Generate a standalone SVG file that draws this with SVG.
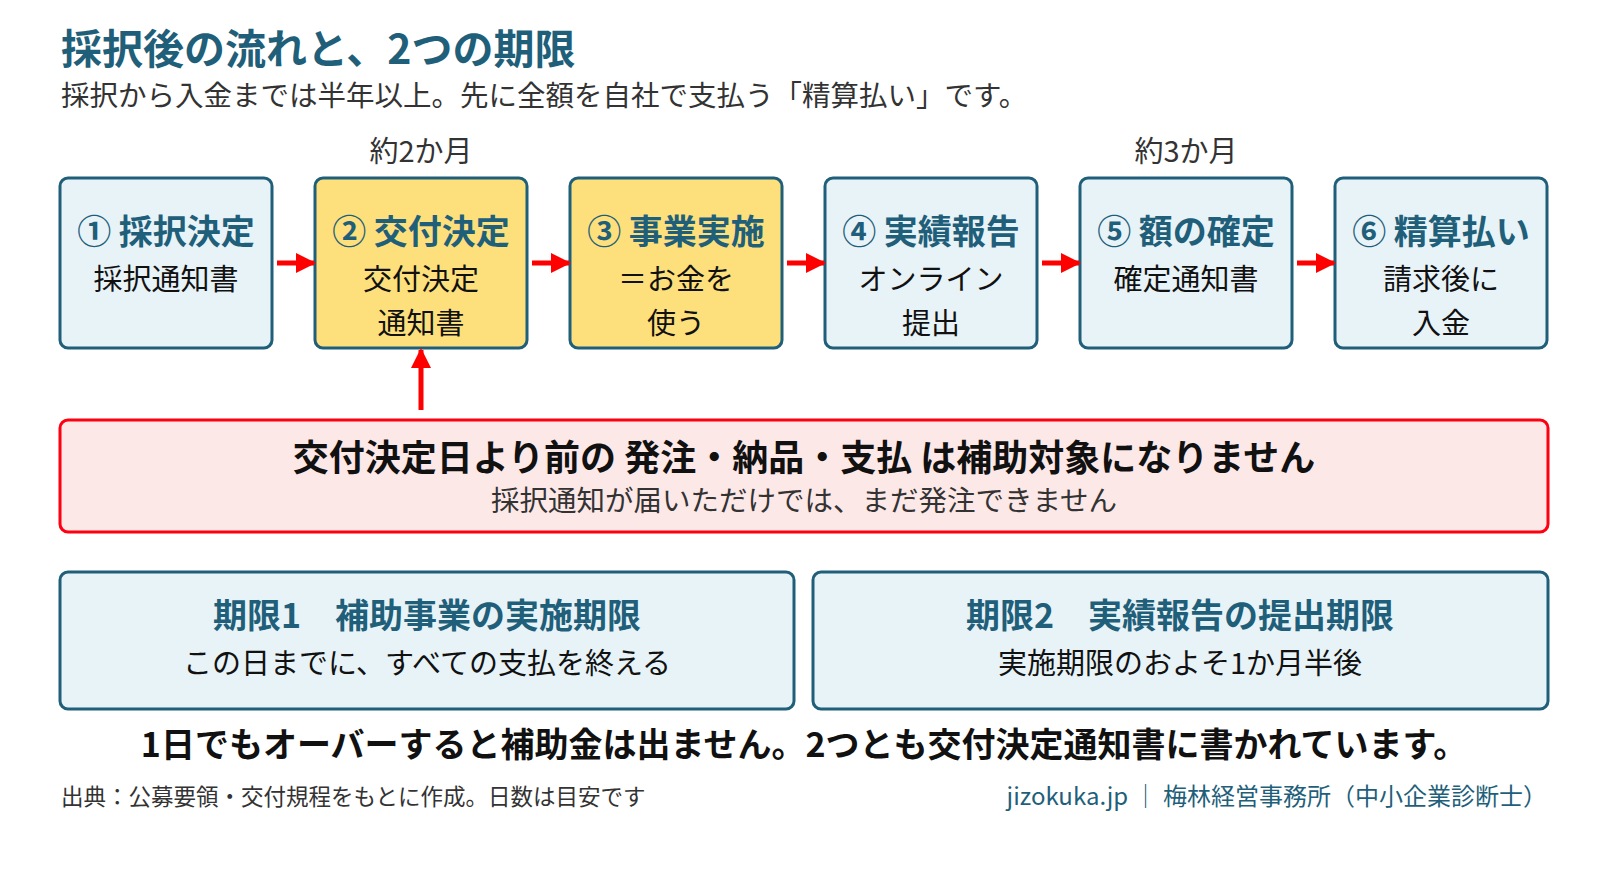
<svg xmlns="http://www.w3.org/2000/svg" width="1600" height="880" viewBox="0 0 1600 880">
<style>
text{font-family:"Noto Sans CJK JP","Noto Sans",sans-serif}
.box{fill:#e8f3f8;stroke:#1f5f7a;stroke-width:3}
.yel{fill:#fde07c;stroke:#1f5f7a;stroke-width:3}
.bt{font-size:34px;font-weight:700;fill:#1f5f7a;text-anchor:middle}
.bs{font-size:29px;fill:#111;text-anchor:middle}
.ar{stroke:#f00;stroke-width:5;fill:none;marker-end:url(#ah)}
</style>
<defs><marker id="ah" viewBox="0 0 10 10" refX="9" refY="5" markerWidth="4" markerHeight="4.4" orient="auto" markerUnits="strokeWidth"><path d="M0,0L10,5L0,10Z" fill="#f00"/></marker></defs>
<rect width="1600" height="880" fill="#fff"/>
<text x="61" y="64" font-size="41" font-weight="700" fill="#1f5f7a">採択後の流れと、2つの期限</text>
<text x="61" y="106" font-size="28.5" fill="#333">採択から入金までは半年以上。先に全額を自社で支払う「精算払い」です。</text>
<text x="421" y="162" font-size="29" fill="#333" text-anchor="middle">約2か月</text>
<text x="1186" y="162" font-size="29" fill="#333" text-anchor="middle">約3か月</text>
<g id="n1"><rect class="box" x="60" y="178" width="212" height="170" rx="8"/><text class="bt" x="166" y="244">① 採択決定</text><text class="bs" x="166" y="290">採択通知書</text></g>
<g id="n2"><rect class="yel" x="315" y="178" width="212" height="170" rx="8"/><text class="bt" x="421" y="244">② 交付決定</text><text class="bs" x="421" y="290">交付決定</text><text class="bs" x="421" y="334">通知書</text></g>
<g id="n3"><rect class="yel" x="570" y="178" width="212" height="170" rx="8"/><text class="bt" x="676" y="244">③ 事業実施</text><text class="bs" x="676" y="290">＝お金を</text><text class="bs" x="676" y="334">使う</text></g>
<g id="n4"><rect class="box" x="825" y="178" width="212" height="170" rx="8"/><text class="bt" x="931" y="244">④ 実績報告</text><text class="bs" x="931" y="290">オンライン</text><text class="bs" x="931" y="334">提出</text></g>
<g id="n5"><rect class="box" x="1080" y="178" width="212" height="170" rx="8"/><text class="bt" x="1186" y="244">⑤ 額の確定</text><text class="bs" x="1186" y="290">確定通知書</text></g>
<g id="n6"><rect class="box" x="1335" y="178" width="212" height="170" rx="8"/><text class="bt" x="1441" y="244">⑥ 精算払い</text><text class="bs" x="1441" y="290">請求後に</text><text class="bs" x="1441" y="334">入金</text></g>
<g id="connectors">
<line class="ar" x1="277" y1="263" x2="314" y2="263"/>
<line class="ar" x1="532" y1="263" x2="569" y2="263"/>
<line class="ar" x1="787" y1="263" x2="824" y2="263"/>
<line class="ar" x1="1042" y1="263" x2="1079" y2="263"/>
<line class="ar" x1="1297" y1="263" x2="1334" y2="263"/>
<line class="ar" x1="421" y1="410" x2="421" y2="350"/>
</g>
<g id="warn"><rect x="60" y="420" width="1488" height="112" rx="8" fill="#fde8e8" stroke="#f01" stroke-width="3"/>
<text x="804" y="471" font-size="36" font-weight="700" fill="#111" text-anchor="middle">交付決定日より前の 発注・納品・支払 は補助対象になりません</text>
<text x="804" y="511" font-size="28.5" fill="#333" text-anchor="middle">採択通知が届いただけでは、まだ発注できません</text></g>
<g id="d1"><rect class="box" x="60" y="572" width="734" height="137" rx="8"/><text class="bt" x="427" y="628" font-size="33">期限1　補助事業の実施期限</text><text class="bs" x="427" y="674">この日までに、すべての支払を終える</text></g>
<g id="d2"><rect class="box" x="813" y="572" width="735" height="137" rx="8"/><text class="bt" x="1180" y="628" font-size="33">期限2　実績報告の提出期限</text><text class="bs" x="1180" y="674">実施期限のおよそ1か月半後</text></g>
<text x="804" y="757" font-size="34" font-weight="700" fill="#111" text-anchor="middle">1日でもオーバーすると補助金は出ません。2つとも交付決定通知書に書かれています。</text>
<text x="61" y="805" font-size="22.5" fill="#333">出典：公募要領・交付規程をもとに作成。日数は目安です</text>
<text x="1547" y="805" font-size="24" fill="#1f5f7a" text-anchor="end">jizokuka.jp ｜ 梅林経営事務所（中小企業診断士）</text>
</svg>
